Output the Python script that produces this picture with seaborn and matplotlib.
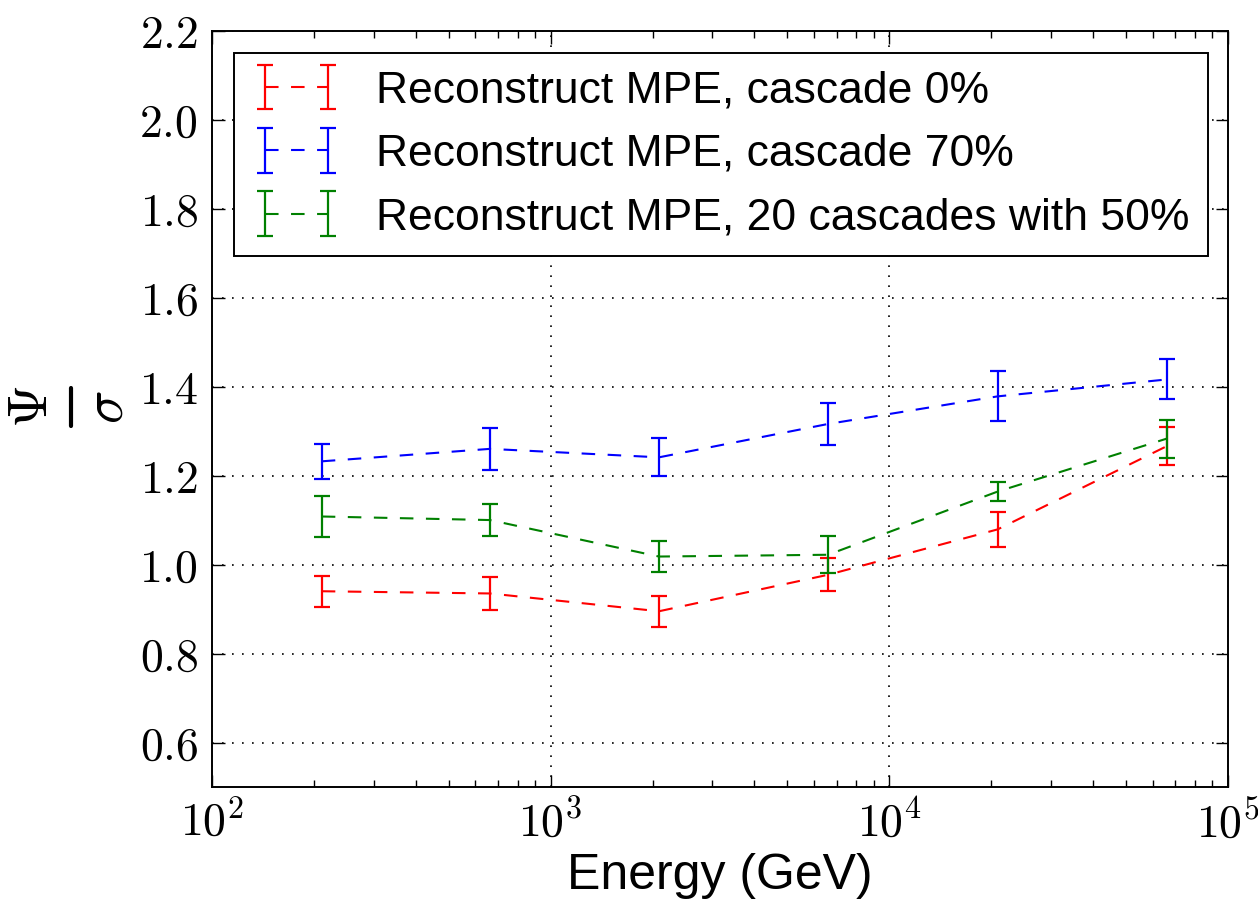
import numpy as np
import matplotlib
matplotlib.use("Agg")
import matplotlib.pyplot as plt
import seaborn as sns
from matplotlib.lines import Line2D
from matplotlib.ticker import FixedLocator, LogLocator, NullFormatter

# energy bins (GeV) and mean psi/sigma with errors
energy = [211, 662, 2090, 6600, 20900, 66000]

ratio_0 = [0.940, 0.935, 0.895, 0.977, 1.079, 1.266]
err_0 = [0.035, 0.037, 0.035, 0.037, 0.039, 0.043]

ratio_70 = [1.232, 1.260, 1.241, 1.316, 1.378, 1.416]
err_70 = [0.040, 0.047, 0.043, 0.047, 0.056, 0.045]

ratio_20x50 = [1.108, 1.100, 1.018, 1.022, 1.164, 1.283]
err_20x50 = [0.045, 0.035, 0.035, 0.042, 0.022, 0.043]

labels = ["Reconstruct MPE, cascade 0%",
          "Reconstruct MPE, cascade 70%",
          "Reconstruct MPE, 20 cascades with 50%"]
colors = ["#ff0000", "#0000ff", "#008000"]

yticks = [0.6, 0.8, 1.0, 1.2, 1.4, 1.6, 1.8, 2.0, 2.2]
xticks = [1e2, 1e3, 1e4, 1e5]

sns.set_theme(style="white")
plt.rcParams['font.family'] = ['Liberation Sans', 'DejaVu Sans']
plt.rcParams['mathtext.fontset'] = 'cm'
plt.rcParams['legend.numpoints'] = 2
for k in ['text.color', 'axes.labelcolor', 'xtick.color', 'ytick.color']:
    plt.rcParams[k] = 'black'

W, H = 1258, 902
fig, ax = plt.subplots(figsize=(W / 100, H / 100), dpi=100)
fig.subplots_adjust(left=0.1685, right=0.976, top=0.966, bottom=0.1275)

series = [(ratio_0, err_0), (ratio_70, err_70), (ratio_20x50, err_20x50)]
for (y, e), lab, c in zip(series, labels, colors):
    ax.errorbar(energy, y, yerr=e, color=c, linestyle=(0, (6.5, 6)), linewidth=1.5,
                elinewidth=1.6, capsize=5.5, capthick=1.6, label=lab)

ax.set_xscale('log')
ax.set_xlim(1e2, 1e5)
ax.set_ylim(0.5, 2.2)

ax.xaxis.set_major_locator(FixedLocator(xticks))
ax.set_xticklabels([r"$10^{%d}$" % int(np.log10(v)) for v in xticks], fontsize=33)
ax.xaxis.set_minor_locator(LogLocator(base=10, subs=np.arange(2, 10)))
ax.xaxis.set_minor_formatter(NullFormatter())
ax.set_yticks(yticks)
ax.set_yticklabels([r"$%.1f$" % v for v in yticks], fontsize=33)

ax.tick_params(which='both', direction='in', top=True, right=True, bottom=True, left=True,
               color='black', width=1.0)
ax.tick_params(which='major', length=9, pad=10)
ax.tick_params(which='minor', length=5)

ax.grid(True, which='major', color='black', linestyle=(0, (1, 5)), linewidth=1.2)
for s in ax.spines.values():
    s.set_color('black')
    s.set_linewidth(1.4)

ax.set_xlabel("Energy (GeV)", fontsize=36, labelpad=4)

# y label: psi over sigma as a rotated fraction
fig.text(33 / W, 1 - 407 / H, r"$\Psi$", rotation=90, fontsize=40, ha='center', va='center')
fig.text(109 / W, 1 - 407 / H, r"$\sigma$", rotation=90, fontsize=40, ha='center', va='center')
fig.add_artist(Line2D([71 / W, 71 / W], [1 - 388 / H, 1 - 426 / H], color='black',
                      linewidth=3.0, transform=fig.transFigure))

leg = ax.legend(loc='upper left', fontsize=32, borderaxespad=0.5, fancybox=False,
                framealpha=1, edgecolor='black', handlelength=2.0, handletextpad=0.8,
                labelspacing=0.5, borderpad=0.4)
leg.get_frame().set_linewidth(1.4)

fig.savefig("out.png", dpi=100)
